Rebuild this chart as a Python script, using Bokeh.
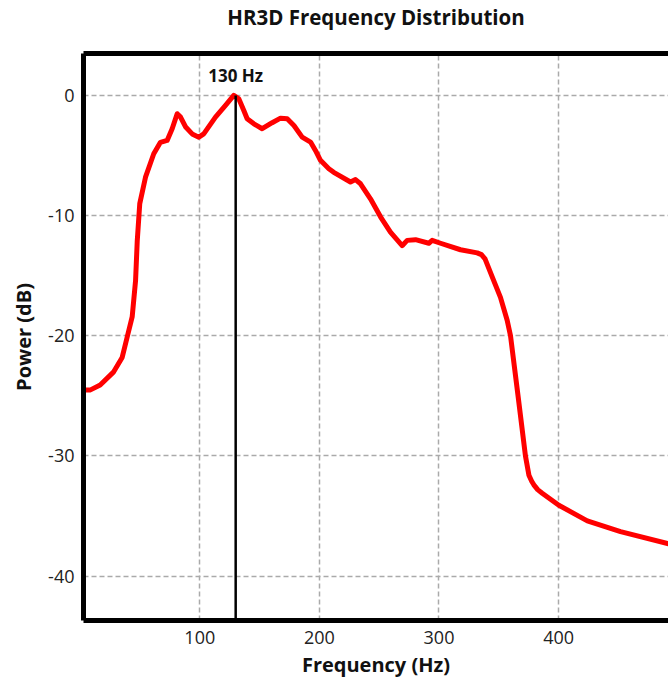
from bokeh.plotting import figure
from bokeh.models import Range1d, LinearAxis, FixedTicker, Label, ColumnDataSource, PrintfTickFormatter
from bokeh.embed import file_html
from bokeh.resources import INLINE

# ---- data ----
freq_hz = [3, 8.6, 16.7, 28, 35.1, 39.3, 43.5, 46.3, 47.7, 49.8, 54.6, 61.5, 67.1, 72.7,
           76.9, 81.1, 83.9, 88, 93.6, 99.2, 103.3, 113.1, 121.5, 128.4, 132.6, 136.8,
           139.6, 145.2, 152.2, 160.5, 167.5, 173.1, 178.7, 185.6, 192.6, 196.7, 200.9,
           207.9, 212, 226, 230.2, 234.4, 242.7, 251.1, 259.4, 269.2, 273.4, 280.4,
           291.5, 294.3, 301.3, 318, 331.9, 335.5, 338.5, 344.5, 351.4, 357, 359.8,
           366.1, 372.3, 375.2, 377.5, 379.3, 382.5, 386.3, 400.2, 424, 451.8, 491.9, 500]
power_db = [-24.5, -24.5, -24.1, -23.0, -21.8, -20.1, -18.4, -15.4, -12.1, -9.0, -6.8,
            -4.85, -3.9, -3.74, -2.77, -1.52, -1.8, -2.6, -3.2, -3.47, -3.2, -1.8, -0.83,
            0.0, -0.28, -1.25, -1.94, -2.36, -2.77, -2.27, -1.89, -1.94, -2.5, -3.47,
            -3.88, -4.58, -5.4, -6.1, -6.4, -7.2, -7.0, -7.35, -8.6, -10.1, -11.37, -12.5,
            -12.06, -12.0, -12.3, -12.06, -12.3, -12.84, -13.1, -13.25, -13.6, -15.1,
            -16.8, -18.7, -20.0, -25.0, -30.0, -31.6, -32.1, -32.4, -32.8, -33.1, -34.1,
            -35.4, -36.3, -37.3, -37.5]
peak_freq = 130
peak_db = 0
peak_label = "130 Hz"
x_ticks = [100, 200, 300, 400]
y_ticks = [0, -10, -20, -30, -40]

x_start, x_end = 2.76, 491.9
y_start, y_end = -43.69, 3.49

FONT = "Open Sans"

p = figure(width=668, height=681, output_backend="svg", toolbar_location=None,
           x_range=Range1d(x_start, x_end), y_range=Range1d(y_start, y_end),
           x_axis_location=None, y_axis_location=None,
           min_border_left=83, min_border_right=0, min_border_top=53,
           min_border_bottom=61)
p.outline_line_color = None
p.background_fill_color = "white"
p.border_fill_color = "white"

# title
p.title.text = "HR3D Frequency Distribution"
p.title.align = "center"
p.title.text_font = FONT
p.title.text_font_size = "20.5px"
p.title.text_font_style = "bold"
p.title.text_color = "#111111"
p.title.standoff = 0

def style_axis(ax):
    ax.axis_line_width = 5
    ax.axis_line_color = "black"
    ax.major_tick_line_color = None
    ax.minor_tick_line_color = None
    ax.major_label_text_font = FONT
    ax.major_label_text_font_size = "18px"
    ax.major_label_text_color = "#222222"
    ax.axis_label_text_font = FONT
    ax.axis_label_text_font_size = "20px"
    ax.axis_label_text_font_style = "bold"
    ax.axis_label_text_color = "#111111"
    ax.formatter = PrintfTickFormatter(format="%d")

xax = LinearAxis(ticker=FixedTicker(ticks=x_ticks), axis_label="Frequency (Hz)")
style_axis(xax)
xax.major_label_standoff = 4
xax.axis_label_standoff = 4
p.add_layout(xax, "below")

yax = LinearAxis(ticker=FixedTicker(ticks=y_ticks), axis_label="Power (dB)")
style_axis(yax)
yax.major_label_standoff = 3
yax.axis_label_standoff = 8
p.add_layout(yax, "left")

# top border line (no labels); invisible tick length reserves room under the title
top = LinearAxis(ticker=FixedTicker(ticks=x_ticks))
top.axis_line_width = 5
top.axis_line_color = "black"
top.major_tick_line_color = None
top.major_tick_in = 0
top.major_tick_out = 23
top.minor_tick_line_color = None
top.major_label_text_font_size = "0px"
top.major_label_standoff = 0
top.major_label_text_color = None
p.add_layout(top, "above")

# grid
for g, ticks in ((p.xgrid, x_ticks), (p.ygrid, y_ticks)):
    g.ticker = FixedTicker(ticks=ticks)
    g.grid_line_color = "#aaaaaa"
    g.grid_line_dash = "5 3"
    g.grid_line_width = 1.5

src = ColumnDataSource(dict(x=freq_hz, y=power_db))
p.line("x", "y", source=src, line_color="red", line_width=5, line_join="round")

p.segment(x0=[peak_freq], y0=[peak_db], x1=[peak_freq], y1=[y_start],
          line_color="black", line_width=2.5)

p.add_layout(Label(x=peak_freq, y=peak_db, text=peak_label, text_align="center",
                   text_baseline="bottom", y_offset=8, text_font=FONT,
                   text_font_size="17px", text_font_style="bold", text_color="#111111"))

open("out.html", "w").write(file_html(p, INLINE))
